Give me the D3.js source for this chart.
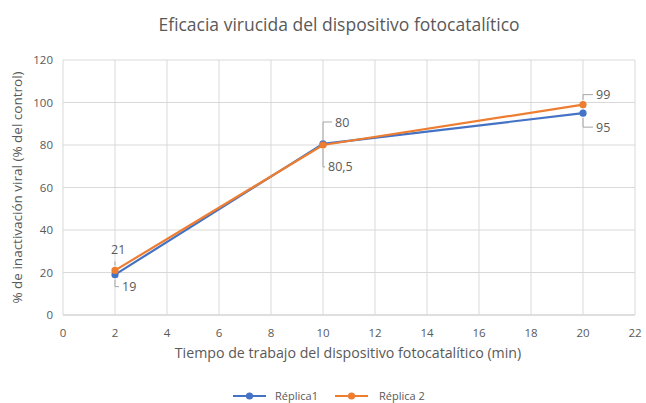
<!DOCTYPE html>
<html>
<head>
<meta charset="utf-8">
<script src="https://cdn.jsdelivr.net/npm/d3@7"></script>
<style>
  body { margin: 0; background: #fff; }
  text { font-family: "Open Sans", "Noto Sans", sans-serif; fill: #595959; }
</style>
</head>
<body>
<div id="chart"></div>
<script>
// data
var tiempos = [2, 10, 20];
var replica1 = [19, 80.5, 95];
var replica2 = [21, 80, 99];
var xTicks = [0, 2, 4, 6, 8, 10, 12, 14, 16, 18, 20, 22];
var yTicks = [0, 20, 40, 60, 80, 100, 120];
var seriesNames = ["Réplica1", "Réplica 2"];
var seriesColors = ["#4472c4", "#ed7d31"];

var W = 646, H = 403;
var margin = {top: 60, left: 63, right: 11, bottom: 88};

var svg = d3.select("#chart").append("svg")
  .attr("width", W).attr("height", H);

var x = d3.scaleLinear().domain([0, 22]).range([margin.left, W - margin.right]);
var y = d3.scaleLinear().domain([0, 120]).range([H - margin.bottom, margin.top]);

// gridlines
svg.append("g").selectAll("line").data(yTicks).enter().append("line")
  .attr("x1", x(0)).attr("x2", x(22))
  .attr("y1", function(d){ return y(d); }).attr("y2", function(d){ return y(d); })
  .attr("stroke", function(d){ return d === 0 ? "#bfbfbf" : "#d9d9d9"; })
  .attr("stroke-width", 1);
svg.append("g").selectAll("line").data(xTicks).enter().append("line")
  .attr("y1", y(0)).attr("y2", y(120))
  .attr("x1", function(d){ return x(d); }).attr("x2", function(d){ return x(d); })
  .attr("stroke", "#d9d9d9").attr("stroke-width", 1);

// tick labels
svg.append("g").selectAll("text").data(yTicks).enter().append("text")
  .attr("x", x(0) - 10).attr("y", function(d){ return y(d) + 4; })
  .attr("text-anchor", "end").attr("font-size", 11.5)
  .text(function(d){ return d; });
svg.append("g").selectAll("text").data(xTicks).enter().append("text")
  .attr("x", function(d){ return x(d); }).attr("y", y(0) + 22)
  .attr("text-anchor", "middle").attr("font-size", 11.5)
  .text(function(d){ return d; });

// titles
svg.append("text").attr("x", 339).attr("y", 31).attr("text-anchor", "middle")
  .attr("font-size", 17.5).attr("fill", "#404040")
  .text("Eficacia virucida del dispositivo fotocatalítico");
svg.append("text").attr("x", 348).attr("y", 358).attr("text-anchor", "middle")
  .attr("font-size", 14.2)
  .text("Tiempo de trabajo del dispositivo fotocatalítico (min)");
svg.append("text").attr("transform", "translate(22," + y(60) + ") rotate(-90)")
  .attr("text-anchor", "middle").attr("font-size", 13.5)
  .text("% de inactivación viral (% del control)");

// lines
var line = d3.line().x(function(d){ return x(d[0]); }).y(function(d){ return y(d[1]); });
[replica1, replica2].forEach(function(vals, i){
  var pts = tiempos.map(function(t, j){ return [t, vals[j]]; });
  svg.append("path").datum(pts).attr("d", line)
    .attr("fill", "none").attr("stroke", seriesColors[i]).attr("stroke-width", 2.2);
  svg.append("g").selectAll("circle").data(pts).enter().append("circle")
    .attr("cx", function(d){ return x(d[0]); }).attr("cy", function(d){ return y(d[1]); })
    .attr("r", 3.6).attr("fill", seriesColors[i]);
});

// data labels with leader lines: [dx to text left, dy to text middle]
var labelOffsets = [
  [[7, 12], [5, 23], [13, 14]],
  [[-4, -21], [12, -23], [13, -10]]
];
var fmt = function(v){ return String(v).replace(".", ","); };
[replica1, replica2].forEach(function(vals, i){
  tiempos.forEach(function(t, j){
    var px = x(t), py = y(vals[j]);
    var o = labelOffsets[i][j];
    var lx = px + o[0], ly = py + o[1];
    var sgn = o[1] > 0 ? 1 : -1;
    var pts = o[0] > 3
      ? [[px, py + sgn * 5], [px, ly], [lx - 3, ly]]
      : [[px, py + sgn * 5], [px, py + sgn * 9]];
    svg.append("polyline")
      .attr("points", pts.map(function(p){ return p.join(","); }).join(" "))
      .attr("fill", "none").attr("stroke", "#a6a6a6").attr("stroke-width", 1);
    svg.append("text").attr("x", lx).attr("y", ly + 4.5)
      .attr("font-size", 12.5).attr("fill", "#404040")
      .text(fmt(vals[j]));
  });
});

// legend
var legend = svg.append("g");
var legendX = [233, 335];
seriesNames.forEach(function(name, i){
  var lx = legendX[i], ly = 396;
  legend.append("line").attr("x1", lx).attr("x2", lx + 33).attr("y1", ly).attr("y2", ly)
    .attr("stroke", seriesColors[i]).attr("stroke-width", 2.2);
  legend.append("circle").attr("cx", lx + 16.5).attr("cy", ly).attr("r", 3.6).attr("fill", seriesColors[i]);
  legend.append("text").attr("x", lx + (i === 1 ? 44 : 42)).attr("y", ly + 4)
    .attr("font-size", 11).text(name);
});
</script>
</body>
</html>
